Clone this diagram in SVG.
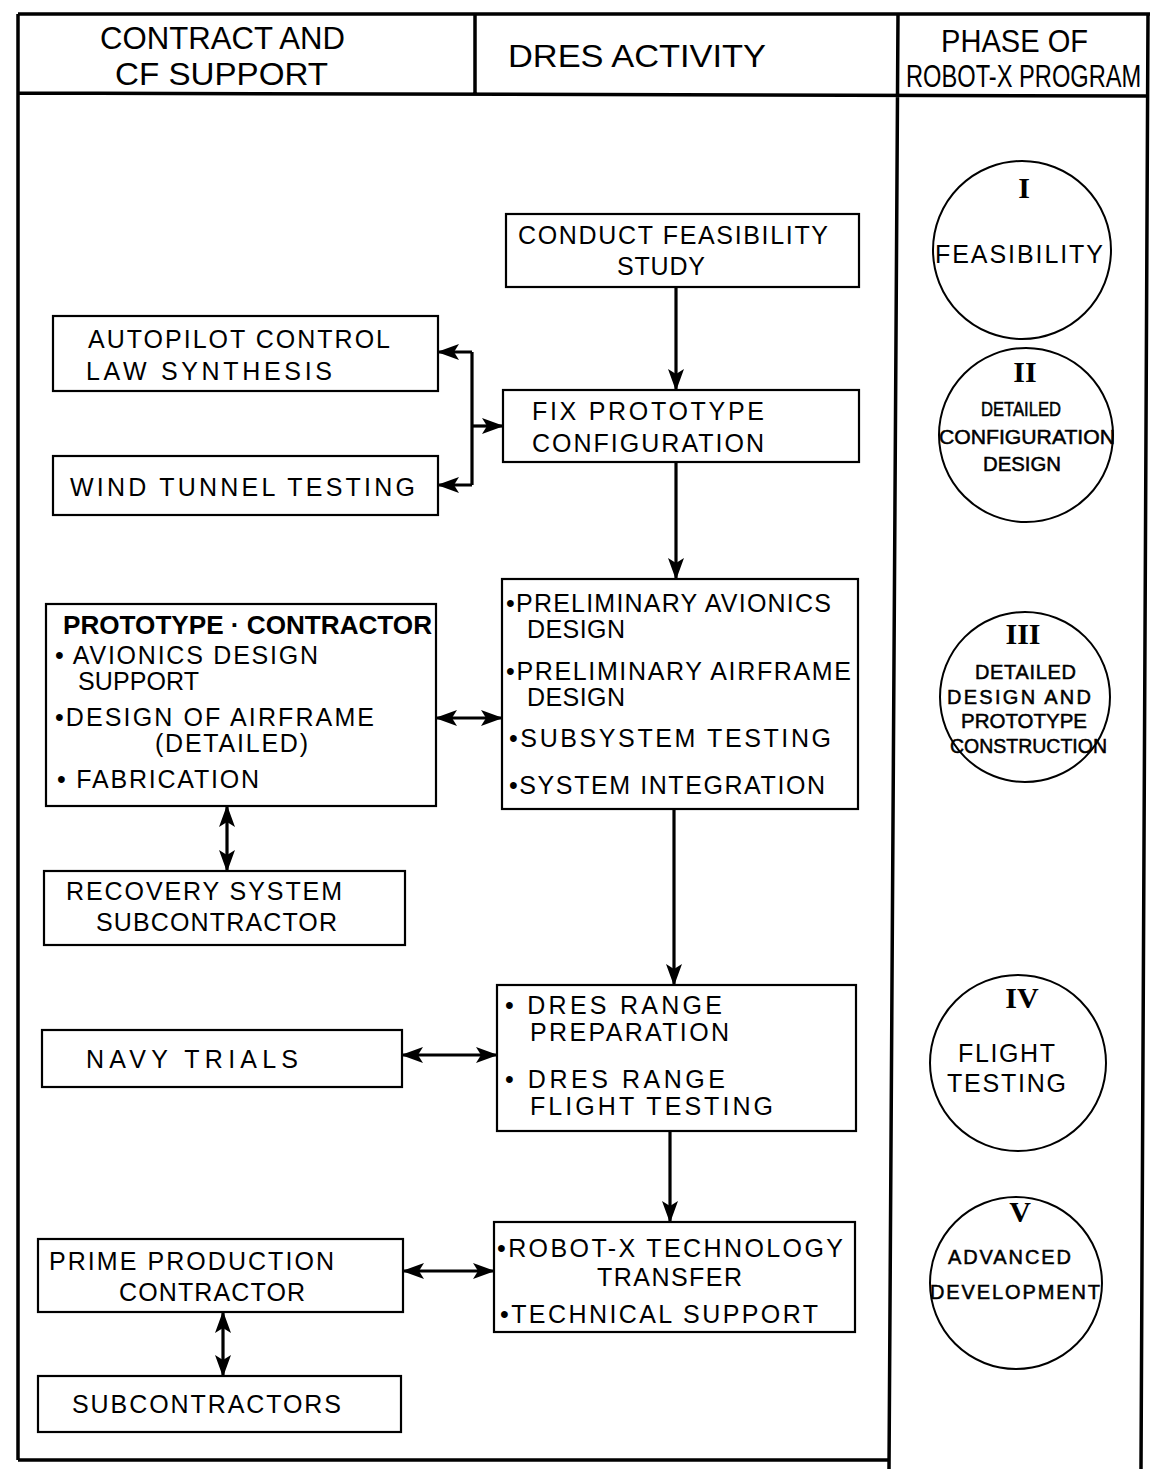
<svg xmlns="http://www.w3.org/2000/svg" width="1157" height="1469" viewBox="0 0 1157 1469">
<style>
.frame{fill:none;stroke:#000;stroke-width:3.5}
.box{fill:#fff;stroke:#000;stroke-width:2.2}
.circ{fill:#fff;stroke:#000;stroke-width:2}
.hd{font-family:"Liberation Sans",Arial,sans-serif;font-size:32px;fill:#000}
.t{font-family:"Liberation Sans",Arial,sans-serif;font-size:25px;fill:#000}
.tb{font-family:"Liberation Sans",Arial,sans-serif;font-size:25px;font-weight:bold;fill:#000}
.c{font-family:"Liberation Sans",Arial,sans-serif;font-size:20px;fill:#000;stroke:#000;stroke-width:0.5}
.cl{font-family:"Liberation Sans",Arial,sans-serif;font-size:25px;fill:#000}
.rn{font-family:"Liberation Serif","Times New Roman",serif;font-size:30px;font-weight:bold;fill:#000}
.conn{fill:none;stroke:#000;stroke-width:3.2}
</style>
<defs>
<marker id="ah" markerUnits="userSpaceOnUse" markerWidth="22" markerHeight="16" refX="21" refY="8" orient="auto-start-reverse">
<path d="M0,0 L22,8 L0,16 L5,8 z" fill="#000"/>
</marker>
</defs>
<rect width="1157" height="1469" fill="#fff"/>
<g id="frame">
<path class="frame" d="M18,14 H1150 M18,14 V1460 M18,93 L1148,96 M475,14 V93 M898,14 L889,1469 M1148,14 L1141,1469 M18,1460 H889"/>
<text class="hd" x="100" y="49" textLength="245" lengthAdjust="spacingAndGlyphs">CONTRACT  AND</text>
<text class="hd" x="115" y="85" textLength="213" lengthAdjust="spacingAndGlyphs">CF  SUPPORT</text>
<text class="hd" x="508" y="67" textLength="258" lengthAdjust="spacingAndGlyphs">DRES  ACTIVITY</text>
<text class="hd" x="941" y="52" textLength="147" lengthAdjust="spacingAndGlyphs">PHASE  OF</text>
<text class="hd" font-size="26" transform="translate(906,87) scale(0.74,1)" x="0" y="0">ROBOT-X  PROGRAM</text>
</g>
<g id="connectors">
<line class="conn" x1="676" y1="287" x2="676" y2="390" marker-end="url(#ah)"/>
<line class="conn" x1="676" y1="462" x2="676" y2="579" marker-end="url(#ah)"/>
<path class="conn" d="M472,352 V485"/>
<line class="conn" x1="472" y1="352" x2="438" y2="352" marker-end="url(#ah)"/>
<line class="conn" x1="472" y1="485" x2="438" y2="485" marker-end="url(#ah)"/>
<line class="conn" x1="472" y1="426" x2="503" y2="426" marker-end="url(#ah)"/>
<line class="conn" x1="436" y1="718" x2="502" y2="718" stroke-width="2" marker-start="url(#ah)" marker-end="url(#ah)"/>
<line class="conn" x1="227" y1="806" x2="227" y2="871" marker-start="url(#ah)" marker-end="url(#ah)"/>
<line class="conn" x1="674" y1="809" x2="674" y2="985" marker-end="url(#ah)"/>
<line class="conn" x1="402" y1="1055" x2="497" y2="1055" marker-start="url(#ah)" marker-end="url(#ah)"/>
<line class="conn" x1="670" y1="1131" x2="670" y2="1222" marker-end="url(#ah)"/>
<line class="conn" x1="403" y1="1271" x2="494" y2="1271" marker-start="url(#ah)" marker-end="url(#ah)"/>
<line class="conn" x1="223" y1="1312" x2="223" y2="1376" marker-start="url(#ah)" marker-end="url(#ah)"/>
</g>
<g id="feasibility-study">
<rect class="box" x="506" y="214" width="353" height="73"/>
<text class="t" x="518" y="244" textLength="310" lengthAdjust="spacing">CONDUCT  FEASIBILITY</text>
<text class="t" x="617" y="275" textLength="88" lengthAdjust="spacing">STUDY</text>
</g>
<g id="autopilot">
<rect class="box" x="53" y="316" width="385" height="75"/>
<text class="t" x="88" y="348" textLength="302" lengthAdjust="spacing">AUTOPILOT  CONTROL</text>
<text class="t" x="86" y="380" textLength="246" lengthAdjust="spacing">LAW  SYNTHESIS</text>
</g>
<g id="wind-tunnel">
<rect class="box" x="53" y="456" width="385" height="59"/>
<text class="t" x="70" y="496" textLength="345" lengthAdjust="spacing">WIND  TUNNEL  TESTING</text>
</g>
<g id="fix-prototype">
<rect class="box" x="503" y="390" width="356" height="72"/>
<text class="t" x="532" y="420" textLength="232" lengthAdjust="spacing">FIX  PROTOTYPE</text>
<text class="t" x="532" y="452" textLength="232" lengthAdjust="spacing">CONFIGURATION</text>
</g>
<g id="preliminary-design">
<rect class="box" x="502" y="579" width="356" height="230"/>
<text class="t" x="506" y="612" textLength="325" lengthAdjust="spacing">•PRELIMINARY  AVIONICS</text>
<text class="t" x="527" y="638" textLength="98" lengthAdjust="spacing">DESIGN</text>
<text class="t" x="506" y="680" textLength="345" lengthAdjust="spacing">•PRELIMINARY  AIRFRAME</text>
<text class="t" x="527" y="706" textLength="98" lengthAdjust="spacing">DESIGN</text>
<text class="t" x="509" y="747" textLength="322" lengthAdjust="spacing">•SUBSYSTEM  TESTING</text>
<text class="t" x="509" y="794" textLength="316" lengthAdjust="spacing">•SYSTEM  INTEGRATION</text>
</g>
<g id="prototype-contractor">
<rect class="box" x="46" y="604" width="390" height="202"/>
<text class="tb" x="63" y="634" textLength="369" lengthAdjust="spacingAndGlyphs">PROTOTYPE · CONTRACTOR</text>
<text class="t" x="55" y="664" textLength="263" lengthAdjust="spacing">• AVIONICS  DESIGN</text>
<text class="t" x="78" y="690" textLength="121" lengthAdjust="spacing">SUPPORT</text>
<text class="t" x="55" y="726" textLength="319" lengthAdjust="spacing">•DESIGN  OF  AIRFRAME</text>
<text class="t" x="155" y="752" textLength="153" lengthAdjust="spacing">(DETAILED)</text>
<text class="t" x="57" y="788" textLength="202" lengthAdjust="spacing">• FABRICATION</text>
</g>
<g id="recovery-subcontractor">
<rect class="box" x="44" y="871" width="361" height="74"/>
<text class="t" x="66" y="900" textLength="276" lengthAdjust="spacing">RECOVERY  SYSTEM</text>
<text class="t" x="96" y="931" textLength="241" lengthAdjust="spacing">SUBCONTRACTOR</text>
</g>
<g id="dres-range">
<rect class="box" x="497" y="985" width="359" height="146"/>
<text class="t" x="505" y="1014" textLength="217" lengthAdjust="spacing">• DRES  RANGE</text>
<text class="t" x="530" y="1041" textLength="199" lengthAdjust="spacing">PREPARATION</text>
<text class="t" x="505" y="1088" textLength="220" lengthAdjust="spacing">• DRES  RANGE</text>
<text class="t" x="530" y="1115" textLength="243" lengthAdjust="spacing">FLIGHT  TESTING</text>
</g>
<g id="navy-trials">
<rect class="box" x="42" y="1030" width="360" height="57"/>
<text class="t" x="86" y="1068" textLength="212" lengthAdjust="spacing">NAVY  TRIALS</text>
</g>
<g id="technology-transfer">
<rect class="box" x="494" y="1222" width="361" height="110"/>
<text class="t" x="497" y="1257" textLength="346" lengthAdjust="spacing">•ROBOT-X  TECHNOLOGY</text>
<text class="t" x="597" y="1286" textLength="145" lengthAdjust="spacing">TRANSFER</text>
<text class="t" x="500" y="1323" textLength="318" lengthAdjust="spacing">•TECHNICAL  SUPPORT</text>
</g>
<g id="prime-contractor">
<rect class="box" x="38" y="1239" width="365" height="73"/>
<text class="t" x="49" y="1270" textLength="285" lengthAdjust="spacing">PRIME  PRODUCTION</text>
<text class="t" x="119" y="1301" textLength="186" lengthAdjust="spacing">CONTRACTOR</text>
</g>
<g id="subcontractors">
<rect class="box" x="38" y="1376" width="363" height="56"/>
<text class="t" x="72" y="1413" textLength="269" lengthAdjust="spacing">SUBCONTRACTORS</text>
</g>
<g id="phase-1">
<circle class="circ" cx="1022" cy="250" r="89"/>
<text class="rn" x="1024" y="198" text-anchor="middle">I</text>
<text class="cl" x="935" y="263" textLength="168" lengthAdjust="spacing">FEASIBILITY</text>
</g>
<g id="phase-2">
<circle class="circ" cx="1026" cy="435" r="87"/>
<text class="rn" x="1025" y="382" text-anchor="middle">II</text>
<text class="c" x="981" y="416" textLength="80" lengthAdjust="spacingAndGlyphs">DETAILED</text>
<text class="c" x="939" y="444" textLength="176" lengthAdjust="spacingAndGlyphs">CONFIGURATION</text>
<text class="c" x="983" y="471" textLength="78" lengthAdjust="spacingAndGlyphs">DESIGN</text>
</g>
<g id="phase-3">
<circle class="circ" cx="1025" cy="697" r="85"/>
<text class="rn" x="1023" y="644" text-anchor="middle">III</text>
<text class="c" x="975" y="679" textLength="101" lengthAdjust="spacing">DETAILED</text>
<text class="c" x="947" y="704" textLength="144" lengthAdjust="spacing">DESIGN  AND</text>
<text class="c" x="961" y="728" textLength="126" lengthAdjust="spacingAndGlyphs">PROTOTYPE</text>
<text class="c" x="950" y="753" textLength="157" lengthAdjust="spacingAndGlyphs">CONSTRUCTION</text>
</g>
<g id="phase-4">
<circle class="circ" cx="1018" cy="1063" r="88"/>
<text class="rn" x="1022" y="1008" text-anchor="middle">IV</text>
<text class="cl" x="958" y="1062" textLength="97" lengthAdjust="spacing">FLIGHT</text>
<text class="cl" x="947" y="1092" textLength="119" lengthAdjust="spacing">TESTING</text>
</g>
<g id="phase-5">
<circle class="circ" cx="1016" cy="1283" r="86"/>
<text class="rn" x="1020" y="1222" text-anchor="middle" font-family="Liberation Sans, Arial, sans-serif">V</text>
<text class="c" x="948" y="1264" textLength="123" lengthAdjust="spacing">ADVANCED</text>
<text class="c" x="930" y="1299" textLength="170" lengthAdjust="spacing">DEVELOPMENT</text>
</g>
</svg>
